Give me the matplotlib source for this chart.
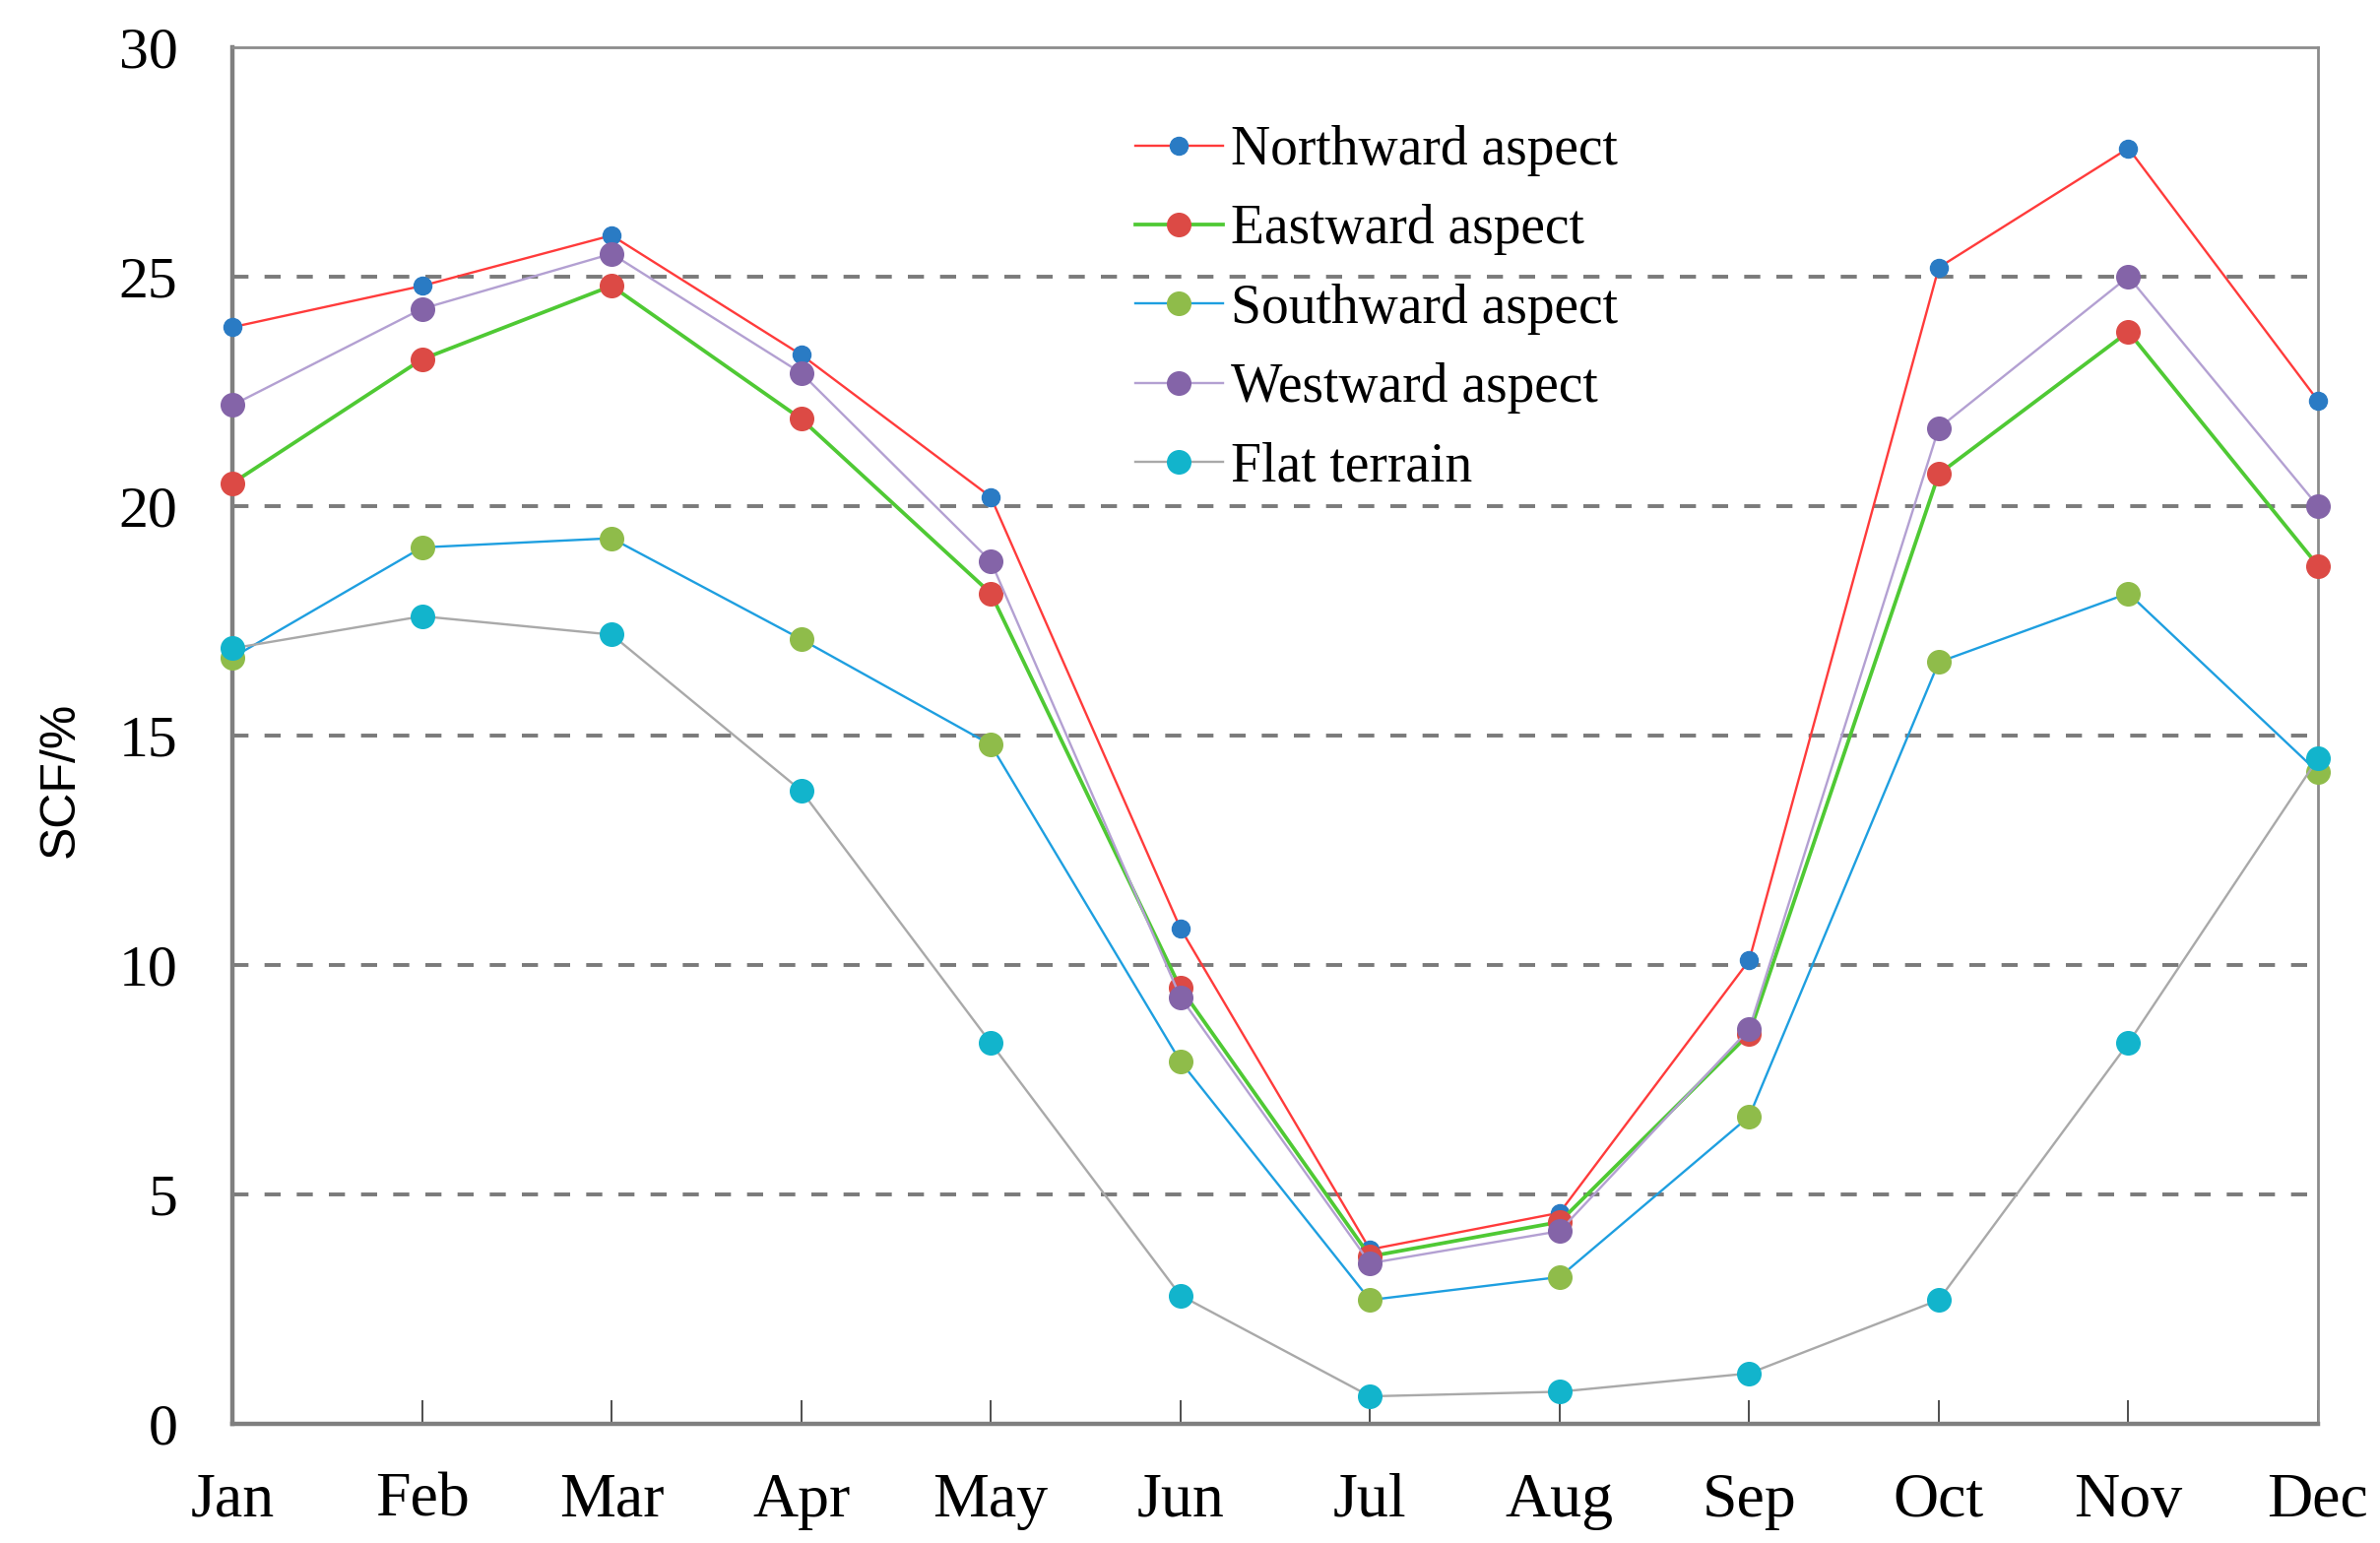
import matplotlib
matplotlib.use("Agg")
import matplotlib.pyplot as plt

months = ["Jan", "Feb", "Mar", "Apr", "May", "Jun", "Jul", "Aug", "Sep", "Oct", "Nov", "Dec"]
northward = [23.9, 24.8, 25.9, 23.3, 20.2, 10.8, 3.8, 4.6, 10.1, 25.2, 27.8, 22.3]
eastward = [20.5, 23.2, 24.8, 21.9, 18.1, 9.5, 3.65, 4.4, 8.5, 20.7, 23.8, 18.7]
southward = [16.7, 19.1, 19.3, 17.1, 14.8, 7.9, 2.7, 3.2, 6.7, 16.6, 18.1, 14.2]
westward = [22.2, 24.3, 25.5, 22.9, 18.8, 9.3, 3.5, 4.2, 8.6, 21.7, 25.0, 20.0]
flat = [16.9, 17.6, 17.2, 13.8, 8.3, 2.8, 0.6, 0.7, 1.1, 2.7, 8.3, 14.5]

series = [
    ("Northward aspect", northward, "#FF3B3B", "#2A7BC4", 1.7, 13),
    ("Eastward aspect", eastward, "#4FC934", "#DC4A45", 2.7, 17),
    ("Southward aspect", southward, "#1E9FE0", "#8FBC4A", 1.7, 17),
    ("Westward aspect", westward, "#B3A0D2", "#8464A8", 1.7, 17),
    ("Flat terrain", flat, "#A9A9A9", "#12B4CC", 1.7, 17),
]

W, H = 2417, 1567
fig = plt.figure(figsize=(W / 100, H / 100), dpi=100)
ax = fig.add_axes([236 / W, 1 - 1446 / H, (2354 - 236) / W, (1446 - 48) / H])

x = list(range(len(months)))
for label, vals, lc, mc, lw, ms in series:
    ax.plot(x, vals, color=lc, lw=lw, marker="o", markersize=ms,
            markerfacecolor=mc, markeredgecolor=mc, label=label,
            clip_on=False, zorder=3)

ax.set_xlim(0, 11)
ax.set_ylim(0, 30)
ax.set_yticks(range(0, 31, 5))
ax.set_xticks(x)
ax.set_xticklabels(months)

for yv in range(5, 30, 5):
    ax.axhline(yv, color="#7A7A7A", lw=2.8, ls=(0, (4.2, 4.2)), zorder=1)

for lab in ax.get_xticklabels():
    lab.set_fontfamily("Liberation Serif")
    lab.set_fontsize(46)
for lab in ax.get_yticklabels():
    lab.set_fontfamily("Liberation Serif")
    lab.set_fontsize(43)

ax.tick_params(axis="x", direction="in", length=17, width=1.3, color="#404040", pad=36)
ax.tick_params(axis="y", length=0, pad=40)

for side in ["left", "bottom"]:
    ax.spines[side].set_color("#7F7F7F")
    ax.spines[side].set_linewidth(3.2)
for side in ["top", "right"]:
    ax.spines[side].set_color("#8C8C8C")
    ax.spines[side].set_linewidth(2.0)

fig.text(62 / W, 1 - 792 / H, "SCF/%", rotation=90, ha="center", va="center",
         fontsize=36, family="Liberation Sans")

leg = ax.legend(loc="upper left", bbox_to_anchor=(1153 / W, 1 - 127 / H),
                bbox_transform=fig.transFigure, frameon=False,
                prop={"family": "Liberation Serif", "size": 40},
                handlelength=1.6, handletextpad=0.15, labelspacing=0.51,
                borderpad=0, borderaxespad=0)

fig.savefig("out.png", dpi=100)
